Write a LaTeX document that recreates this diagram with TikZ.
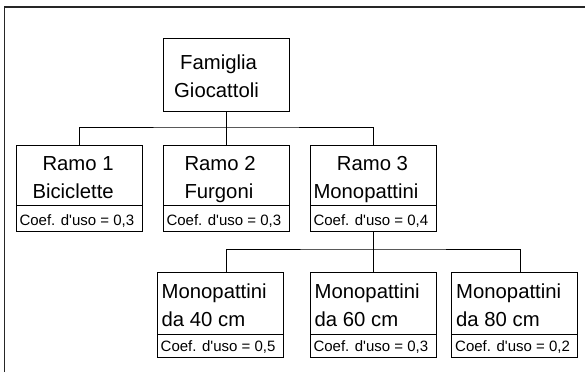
\documentclass[tikz,border=0pt]{standalone}
\usepackage{fontspec}
\setmainfont{Liberation Sans}
\begin{document}
\begin{tikzpicture}[x=1pt,y=-1pt,
  bx/.style={draw=black,line width=1pt,inner sep=0pt,outer sep=0pt,minimum width=126pt},
  big/.style={anchor=base west,inner sep=0pt,font=\fontsize{20.3}{24}\selectfont},
  small/.style={anchor=base west,inner sep=0pt,font=\fontsize{15}{17}\selectfont},
  conn/.style={draw=black,line width=1pt}]
\useasboundingbox (0,0) rectangle (585,372);
% outer frame (cut at right and bottom)
\draw[line width=1.3pt,draw=black!85] (4.5,372) -- (4.5,7) -- (585,7);
% boxes
\node[bx,minimum height=73pt] (top) at (226,74.5) {};
\node[bx,minimum height=60pt] (r1) at (79,175) {};
\node[bx,minimum height=26pt] (r1c) at (79,218) {};
\node[bx,minimum height=60pt] (r2) at (226,175) {};
\node[bx,minimum height=26pt] (r2c) at (226,218) {};
\node[bx,minimum height=60pt] (r3) at (373,175) {};
\node[bx,minimum height=26pt] (r3c) at (373,218) {};
\node[bx,minimum height=62pt] (c1) at (220,303) {};
\node[bx,minimum height=23pt] (c1c) at (220,345.5) {};
\node[bx,minimum height=62pt] (c2) at (373,303) {};
\node[bx,minimum height=23pt] (c2c) at (373,345.5) {};
\node[bx,minimum height=62pt] (c3) at (514.5,303) {};
\node[bx,minimum height=23pt] (c3c) at (514.5,345.5) {};
% connectors
\coordinate (j1) at (226,127);
\draw[conn] (top.south) -- (j1);
\draw[conn] (r1.north) |- (j1) -| (r3.north);
\draw[conn] (j1) -- (r2.north);
\coordinate (j2) at (373,249);
\coordinate (c1t) at ([xshift=6pt]c1.north);
\coordinate (c3t) at ([xshift=5.5pt]c3.north);
\draw[conn] (r3c.south) -- (j2);
\draw[conn] (c1t) |- (j2) -| (c3t);
\draw[conn] (j2) -- (c2.north);
% texts
\newcommand{\coefuso}[1]{Coef. d\textquotesingle uso = #1}
\node[big] (t1) at (180,69) {Famiglia};
\node[big] (t2) at (174,97) {Giocattoli};
\node[big] (a1) at (42.3,170) {Ramo 1};
\node[big] (a2) at (32.3,198) {Biciclette};
\node[big] (b1) at (184.3,170) {Ramo 2};
\node[big] (b2) at (184.3,198) {Furgoni};
\node[big] (d1) at (336.7,170) {Ramo 3};
\node[big] (d2) at (313.3,198) {Monopattini};
\node[small] (ac) at (19.3,225) {\coefuso{0,3}};
\node[small] (bc) at (166.3,225) {\coefuso{0,3}};
\node[small] (dc) at (313.3,225) {\coefuso{0,4}};
\node[big] (e1) at (161.5,298) {Monopattini};
\node[big] (e2) at (161.5,326.5) {da 40 cm};
\node[small] (ec) at (160.5,351.5) {\coefuso{0,5}};
\node[big] (f1) at (314.5,298) {Monopattini};
\node[big] (f2) at (314.5,326.5) {da 60 cm};
\node[small] (fc) at (313.3,351.5) {\coefuso{0,3}};
\node[big] (g1) at (456,298) {Monopattini};
\node[big] (g2) at (456,326.5) {da 80 cm};
\node[small] (gc) at (455,351.5) {\coefuso{0,2}};
\end{tikzpicture}
\end{document}
